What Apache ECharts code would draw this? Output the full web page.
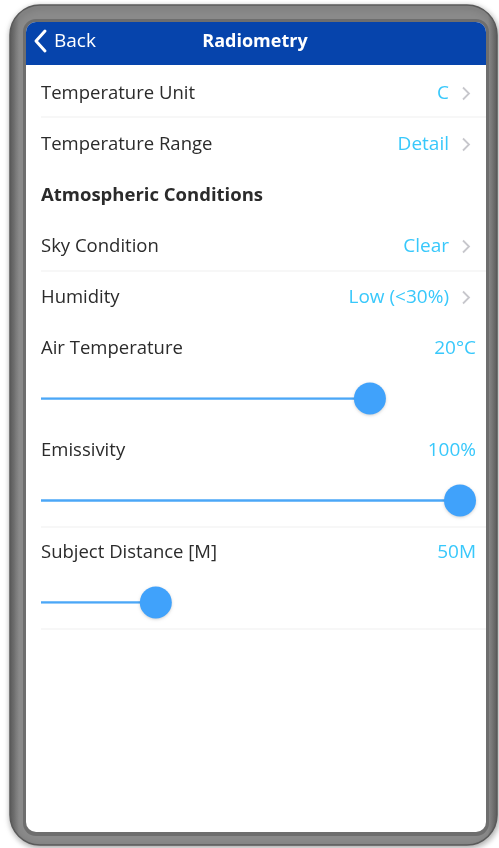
<!DOCTYPE html>
<html><head><meta charset="utf-8">
<script src="https://cdn.jsdelivr.net/npm/echarts@6/dist/echarts.min.js"></script>
<style>html,body{margin:0;padding:0;background:#fff;}#c{width:499px;height:848px;}</style>
</head><body><div id="c"></div>
<script>
// ---- data ----
const headerTitle = 'Radiometry';
const backLabel = 'Back';
const rowLabels = ['Temperature Unit', 'Temperature Range', 'Atmospheric Conditions', 'Sky Condition', 'Humidity'];
const rowValues = ['C', 'Detail', '', 'Clear', 'Low (<30%)'];
const rowIsHeader = [false, false, true, false, false];
const sliderLabels = ['Air Temperature', 'Emissivity', 'Subject Distance [M]'];
const sliderValueTexts = ['20°C', '100%', '50M'];
const sliderPositions = [78.5, 100, 27.4]; // percent of track

// ---- layout ----
const FONT = '"Open Sans", "Noto Sans", sans-serif';
const rowY0 = 93.5, rowStep = 51;
const sepYs = [117, 271, 527, 629];
const g = [];
// phone frame
g.push({type:'rect', z:-20, shape:{x:10,y:5,width:487,height:840,r:30},
  style:{fill:new echarts.graphic.LinearGradient(0,0,1,0,[{offset:0,color:'#5e5e5e'},{offset:0.02,color:'#8a8a8a'},{offset:0.98,color:'#8a8a8a'},{offset:1,color:'#5e5e5e'}]),
  stroke:'#5a5a5a', lineWidth:1.5, shadowBlur:6, shadowColor:'rgba(0,0,0,0.35)', shadowOffsetX:1, shadowOffsetY:2}});
g.push({type:'rect', z:-19, shape:{x:23,y:19,width:466,height:817,r:13}, style:{fill:'#6e6e6e'}});
g.push({type:'rect', z:-18, shape:{x:26,y:22,width:460,height:810,r:10}, style:{fill:'#ffffff'}});
// header
g.push({type:'rect', z:-17, shape:{x:26,y:22,width:460,height:43,r:[10,10,0,0]}, style:{fill:'#0644ac'}});
g.push({type:'polyline', z:-16, shape:{points:[[45,31],[36,41],[45,51]]}, style:{stroke:'#ffffff', lineWidth:3, fill:null, lineCap:'round', lineJoin:'round'}});
g.push({type:'text', z:-16, style:{text:backLabel, x:54, y:42, fill:'#ffffff', font:'19px '+FONT, textVerticalAlign:'middle'}});
g.push({type:'text', z:-16, style:{text:headerTitle, x:255, y:42, fill:'#ffffff', font:'bold 18px '+FONT, textAlign:'center', textVerticalAlign:'middle'}});
// separators
sepYs.forEach(y => g.push({type:'line', z:-16, shape:{x1:41,y1:y,x2:486,y2:y}, style:{stroke:'#efefef', lineWidth:1}}));
// list rows
rowLabels.forEach((t, i) => {
  const y = rowY0 + i * rowStep;
  g.push({type:'text', z:-16, style:{text:t, x:41, y:y, fill:'#2b2b2b', font:(rowIsHeader[i]?'bold ':'')+'18.5px '+FONT, textVerticalAlign:'middle'}});
  if (rowValues[i]) {
    g.push({type:'text', z:-16, style:{text:rowValues[i], x:449, y:y, fill:'#38c8fb', font:'19px '+FONT, textAlign:'right', textVerticalAlign:'middle'}});
    g.push({type:'polyline', z:-16, shape:{points:[[463,y-6],[469,y],[463,y+6]]}, style:{stroke:'#c7c7cc', lineWidth:1.8, fill:null}});
  }
});
// slider labels
sliderLabels.forEach((t, i) => {
  const y = rowY0 + (rowLabels.length + 2 * i) * rowStep;
  g.push({type:'text', z:-16, style:{text:t, x:41, y:y, fill:'#2b2b2b', font:'18.5px '+FONT, textVerticalAlign:'middle'}});
  g.push({type:'text', z:-16, style:{text:sliderValueTexts[i], x:476, y:y, fill:'#38c8fb', font:'19px '+FONT, textAlign:'right', textVerticalAlign:'middle'}});
});

const series = [];
sliderPositions.forEach((v, i) => {
  series.push({type:'line', data:[[0, i], [v, i]], symbol:'none', silent:true, z:2,
    lineStyle:{color:'#4ba7f7', width:2.5}});
});
series.push({type:'scatter', z:3, silent:true, symbolSize:32,
  data: sliderPositions.map((v, i) => [v, i]),
  itemStyle:{color:'#40a2fb', opacity:1, shadowBlur:3, shadowColor:'rgba(0,0,0,0.18)', shadowOffsetY:1}});

const chart = echarts.init(document.getElementById('c'), null, {renderer:'canvas'});
chart.setOption({
  animation:false,
  graphic:g,
  grid:{left:41, right:39, top:398.5, height:204},
  xAxis:{type:'value', min:0, max:100, show:false},
  yAxis:{type:'value', min:0, max:2, inverse:true, show:false},
  series:series
});
</script></body></html>
